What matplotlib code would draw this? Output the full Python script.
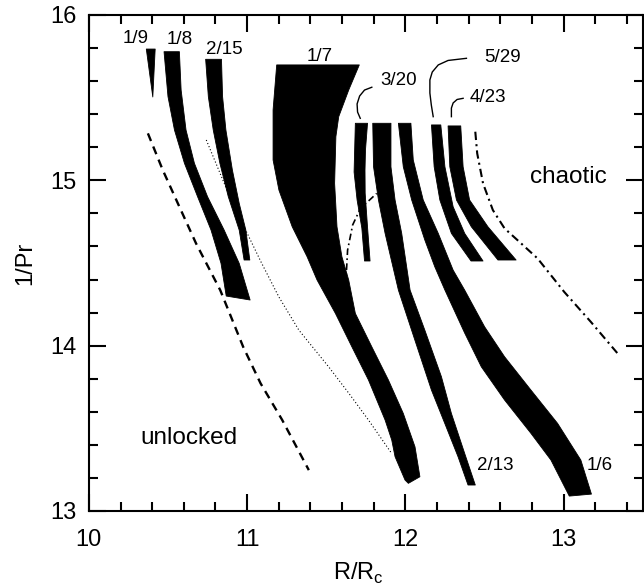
import matplotlib.pyplot as plt
from matplotlib.ticker import MultipleLocator

plt.rcParams['font.family'] = ['Liberation Sans', 'DejaVu Sans']

# locked tongues: outline = left edge (top to bottom) then right edge (bottom to top)
t1_9_x = [10.363, 10.419, 10.404]
t1_9_y = [15.794, 15.794, 15.504]

t1_8_x = [10.475, 10.500, 10.541, 10.604, 10.687, 10.772, 10.835, 10.868,
          11.019, 10.950, 10.855, 10.750, 10.667, 10.614, 10.583, 10.572]
t1_8_y = [15.778, 15.506, 15.304, 15.103, 14.901, 14.699, 14.498, 14.300,
          14.276, 14.498, 14.699, 14.901, 15.103, 15.304, 15.546, 15.778]

t2_15_x = [10.738, 10.755, 10.786, 10.828, 10.881, 10.950, 10.981,
           11.017, 10.992, 10.950, 10.907, 10.866, 10.845, 10.838]
t2_15_y = [15.732, 15.506, 15.304, 15.103, 14.901, 14.699, 14.518,
           14.518, 14.699, 14.861, 15.062, 15.304, 15.506, 15.732]

t1_7_x = [11.187, 11.164, 11.164, 11.201, 11.285, 11.379, 11.442, 11.558,
          11.662, 11.767, 11.872, 11.914, 11.935, 11.998, 12.019,
          12.092, 12.061, 11.987, 11.893, 11.788, 11.684, 11.642, 11.599,
          11.568, 11.553, 11.561, 11.579, 11.642, 11.709]
t1_7_y = [15.698, 15.425, 15.123, 14.941, 14.719, 14.538, 14.397, 14.195,
          13.993, 13.792, 13.550, 13.429, 13.328, 13.187, 13.167,
          13.207, 13.388, 13.590, 13.792, 13.993, 14.195, 14.397, 14.538,
          14.719, 14.982, 15.264, 15.385, 15.546, 15.698]

t3_20_x = [11.684, 11.676, 11.695, 11.725, 11.742,
           11.777, 11.761, 11.746, 11.745, 11.748, 11.761]
t3_20_y = [15.345, 15.050, 14.881, 14.711, 14.512,
           14.512, 14.717, 14.923, 15.062, 15.183, 15.345]

t2_13_x = [11.794, 11.799, 11.830, 11.872, 11.956, 12.060, 12.165, 12.249,
           12.333, 12.396,
           12.442, 12.375, 12.291, 12.228, 12.123, 12.030, 11.977, 11.935,
           11.909, 11.909]
t2_13_y = [15.345, 15.082, 14.881, 14.679, 14.336, 14.034, 13.731, 13.530,
           13.328, 13.157,
           13.157, 13.348, 13.590, 13.812, 14.094, 14.336, 14.679, 14.881,
           15.082, 15.345]

t1_6_x = [11.956, 11.987, 12.040, 12.123, 12.186, 12.250, 12.375, 12.480,
          12.627, 12.794, 12.920, 13.036,
          13.176, 13.109, 12.962, 12.794, 12.627, 12.501, 12.375, 12.302,
          12.208, 12.113, 12.050, 12.035]
t1_6_y = [15.345, 15.082, 14.881, 14.639, 14.477, 14.336, 14.076, 13.872,
          13.671, 13.469, 13.308, 13.090,
          13.102, 13.308, 13.530, 13.731, 13.933, 14.114, 14.336, 14.457,
          14.679, 14.881, 15.123, 15.345]

t5_29_x = [12.165, 12.182, 12.218, 12.291, 12.415,
           12.491, 12.375, 12.302, 12.250, 12.224]
t5_29_y = [15.335, 15.082, 14.881, 14.679, 14.512,
           14.512, 14.679, 14.840, 15.082, 15.335]

t4_23_x = [12.270, 12.281, 12.323, 12.417, 12.585,
           12.700, 12.522, 12.406, 12.365, 12.350]
t4_23_y = [15.329, 15.082, 14.881, 14.719, 14.518,
           14.518, 14.719, 14.881, 15.082, 15.329]

# boundaries
unlocked_x = [10.373, 10.467, 10.572, 10.677, 10.830, 10.975, 11.085, 11.222, 11.390]
unlocked_y = [15.284, 15.062, 14.840, 14.619, 14.336, 13.993, 13.772, 13.550, 13.247]

dotted_x = [10.742, 10.899, 11.088, 11.201, 11.327, 11.516, 11.642, 11.767, 11.912]
dotted_y = [15.244, 14.881, 14.506, 14.294, 14.094, 13.871, 13.713, 13.550, 13.350]

inner_dd_x = [11.623, 11.635, 11.667, 11.717, 11.774, 11.819]
inner_dd_y = [14.367, 14.578, 14.730, 14.832, 14.881, 14.921]

chaos_x = [12.442, 12.454, 12.491, 12.553, 12.627, 12.732, 12.836, 13.004, 13.172, 13.350]
chaos_y = [15.294, 15.163, 14.981, 14.820, 14.709, 14.618, 14.527, 14.325, 14.144, 13.943]

# label leaders
lead3_20_x = [11.715, 11.698, 11.695, 11.711, 11.742, 11.788]
lead3_20_y = [15.375, 15.413, 15.462, 15.510, 15.546, 15.563]
lead5_29_x = [12.176, 12.164, 12.155, 12.155, 12.170, 12.208, 12.270, 12.386]
lead5_29_y = [15.385, 15.456, 15.528, 15.607, 15.655, 15.698, 15.725, 15.738]
lead4_23_x = [12.291, 12.291, 12.302, 12.327, 12.365]
lead4_23_y = [15.385, 15.437, 15.468, 15.489, 15.496]

labels = ['1/9', '1/8', '2/15', '1/7', '3/20', '5/29', '4/23', '2/13', '1/6']
label_x = [10.296, 10.572, 10.855, 11.459, 11.956, 12.616, 12.522, 12.566, 13.226]
label_y = [15.855, 15.849, 15.794, 15.746, 15.601, 15.740, 15.498, 13.278, 13.278]

fig = plt.figure(figsize=(6.44, 5.88), dpi=100)
ax = fig.add_axes([0.138, 0.131, 0.860, 0.8435])

for xs, ys in [(t1_9_x, t1_9_y), (t1_8_x, t1_8_y), (t2_15_x, t2_15_y),
               (t1_7_x, t1_7_y), (t3_20_x, t3_20_y), (t2_13_x, t2_13_y),
               (t1_6_x, t1_6_y), (t5_29_x, t5_29_y), (t4_23_x, t4_23_y)]:
    ax.fill(xs, ys, color='black', lw=0.6, joinstyle='round')

ax.plot(unlocked_x, unlocked_y, color='black', lw=1.7, ls=(0, (3.5, 2.5)))
ax.plot(dotted_x, dotted_y, color='black', lw=0.8, ls=(0, (1, 2)))
ax.plot(inner_dd_x, inner_dd_y, color='black', lw=1.2, ls=(0, (4, 2, 1, 2)))
ax.plot(chaos_x, chaos_y, color='black', lw=1.5, ls=(0, (4, 2, 1, 2)))

for xs, ys in [(lead3_20_x, lead3_20_y), (lead5_29_x, lead5_29_y),
               (lead4_23_x, lead4_23_y)]:
    ax.plot(xs, ys, color='black', lw=1.0)

for s, x, y in zip(labels, label_x, label_y):
    ax.text(x, y, s, fontsize=13.5, ha='center', va='center')

ax.text(13.031, 15.02, 'chaotic', fontsize=17.5, ha='center', va='center')
ax.text(10.635, 13.441, 'unlocked', fontsize=17.5, ha='center', va='center')

ax.set_xlim(10, 13.5)
ax.set_ylim(13, 16)
ax.xaxis.set_major_locator(MultipleLocator(1))
ax.xaxis.set_minor_locator(MultipleLocator(0.2))
ax.yaxis.set_major_locator(MultipleLocator(1))
ax.yaxis.set_minor_locator(MultipleLocator(0.2))
ax.tick_params(which='both', direction='in', top=True, right=True, width=1.5,
               labelsize=17)
ax.tick_params(which='major', length=12)
ax.tick_params(which='minor', length=6.5)
ax.tick_params(axis='x', which='major', pad=13)
ax.tick_params(axis='y', which='major', pad=9)
for sp in ax.spines.values():
    sp.set_linewidth(1.5)

ax.set_xlabel('R/R$_\\mathregular{c}$', fontsize=17, labelpad=6)
ax.set_ylabel('1/Pr', fontsize=17, labelpad=10)
ax.xaxis.set_label_coords(0.487, -0.1)

fig.savefig('out.png', dpi=100, facecolor='white')
